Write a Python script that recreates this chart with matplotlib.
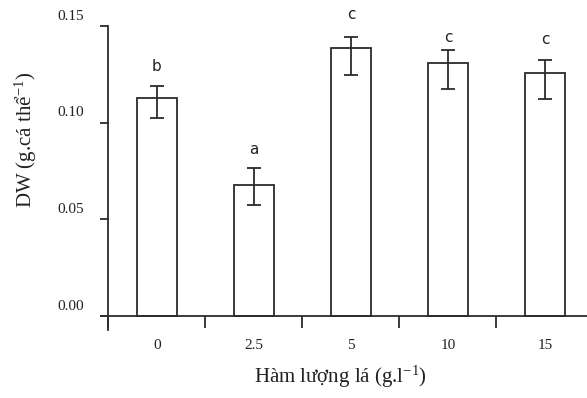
import matplotlib
matplotlib.use("Agg")
import matplotlib.pyplot as plt
from matplotlib.transforms import ScaledTranslation

# ---- data ----
categories = ["0", "2.5", "5", "10", "15"]
means = [0.113, 0.068, 0.1385, 0.131, 0.1255]
err_upper = [0.0062, 0.0088, 0.0060, 0.0067, 0.0068]
err_lower = [0.0104, 0.0104, 0.0140, 0.0136, 0.0133]
letters = ["b", "a", "c", "c", "c"]
letter_y = [0.1288, 0.0859, 0.1557, 0.1438, 0.1432]
yticks = [0.00, 0.05, 0.10, 0.15]
ytick_labels = ["0.00", "0.05", "0.10", "0.15"]
xlabel = "Hàm lượng lá (g.l$^{-1}$)"
ylabel = "DW (g.cá thể$^{-1}$)"

plt.rcParams["font.family"] = ["Liberation Serif", "DejaVu Serif"]
plt.rcParams["mathtext.fontset"] = "custom"
plt.rcParams["mathtext.rm"] = "Liberation Serif"
plt.rcParams["mathtext.it"] = "Liberation Serif:italic"

W, H = 587, 398
fig = plt.figure(figsize=(W / 100, H / 100), dpi=100)
# axes pixel box: x 100.7 -> 593.5, y 26 -> 330
ax = fig.add_axes([100.7 / W, (H - 330) / H, 492.8 / W, 304 / H])

lc = "#2b2b2b"
tc = "#222222"
x = list(range(len(categories)))
ax.bar(x, means, width=0.41, color="white", edgecolor=lc, linewidth=1.3, zorder=2)
ax.errorbar(x, means, yerr=[err_lower, err_upper], fmt="none", ecolor=lc,
            elinewidth=1.3, capsize=4.7, capthick=1.3, zorder=3)

for xi, lt, ly in zip(x, letters, letter_y):
    ax.text(xi, ly, lt, ha="center", va="center", fontsize=11,
            family="DejaVu Sans", color=tc, clip_on=False)

ax.set_xlim(-0.58, 4.5)
ax.set_ylim(-0.0072, 0.15)

for s in ["top", "right"]:
    ax.spines[s].set_visible(False)
ax.spines["bottom"].set_position(("data", 0))
ax.spines["left"].set_position(("data", -0.5))
for s in ["bottom", "left"]:
    ax.spines[s].set_color(lc)
    ax.spines[s].set_linewidth(1.3)

# y ticks (labels drawn manually, offset upward like the reference)
ax.set_yticks(yticks)
ax.set_yticklabels([])
ax.tick_params(axis="y", direction="out", length=5.8, width=1.3, color=lc)
off = ScaledTranslation(-24 / 100, 10 / 100, fig.dpi_scale_trans)
for yv, lab in zip(yticks, ytick_labels):
    ax.text(-0.5, yv, lab, ha="right", va="center", fontsize=11,
            color=tc, transform=ax.transData + off, clip_on=False)

# x ticks: labels at bar centers, tick marks between bars
ax.set_xticks(x)
ax.set_xticklabels(categories, fontsize=11, color=tc)
ax.tick_params(axis="x", which="major", length=0, pad=16.5)
ax.set_xticks([i - 0.5 for i in range(len(categories) + 1)], minor=True)
ax.tick_params(axis="x", which="minor", direction="out", length=8.6,
               width=1.3, color=lc)

fig.text(340 / W, 1 - 377 / H, xlabel, ha="center", va="center",
         fontsize=15, color=tc)
fig.text(26 / W, 1 - 140 / H, ylabel, ha="center", va="center",
         rotation=90, fontsize=15, color=tc)

fig.savefig("out.png", dpi=100)
